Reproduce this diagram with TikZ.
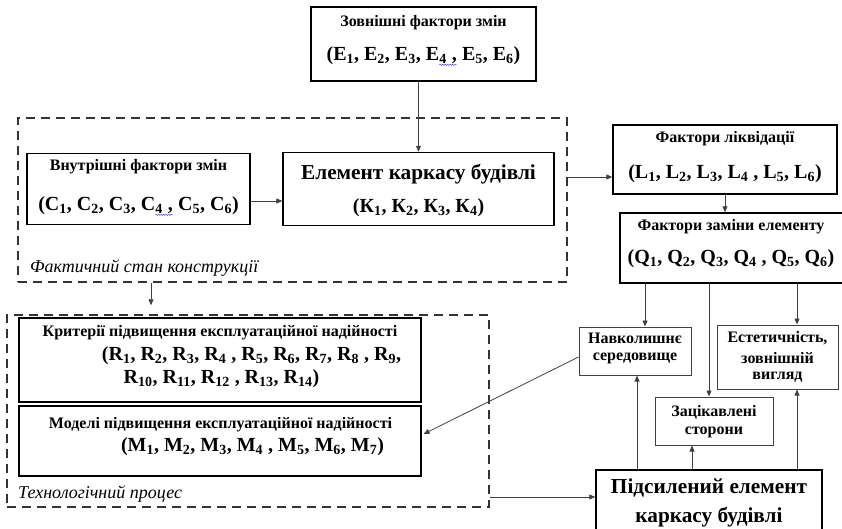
\documentclass[tikz,border=0pt]{standalone}
\usepackage{fontspec}
\setmainfont{Liberation Serif}
\usetikzlibrary{arrows.meta,calc,decorations.pathmorphing}
\newcommand\sbs[1]{\textsubscript{#1}}
\newcommand\squig[1]{\tikz[baseline=(sq.base)]{\node[inner sep=0pt,outer sep=0pt](sq){#1};\draw[blue!80, line width=0.4pt, decorate, decoration={snake,amplitude=0.7pt,segment length=2.5pt}] ([yshift=-1.5pt]sq.south west) -- ([yshift=-1.5pt]sq.south east);}}
\begin{document}
\begin{tikzpicture}[x=1pt,y=-1pt,
  bx/.style={draw=black, line width=1.4pt, inner sep=0pt, rectangle},
  bxthin/.style={draw=black!75, line width=1pt, inner sep=0pt, rectangle},
  bxmid/.style={draw=black, line width=1.2pt, inner sep=0pt, rectangle},
  dbox/.style={draw=black!80, line width=1.5pt, dash pattern=on 9pt off 6pt, inner sep=0pt, rectangle},
  conn/.style={draw=black!75, line width=0.8pt, -{Triangle[length=6pt,width=5pt]}},
  ttl/.style={font=\fontsize{16}{19}\selectfont\bfseries, inner sep=0pt},
  prm/.style={font=\fontsize{20}{23}\selectfont\bfseries, inner sep=0pt},
  big/.style={font=\fontsize{21.3}{25}\selectfont\bfseries, inner sep=0pt},
  lab/.style={font=\fontsize{18}{21}\selectfont\itshape, inner sep=0pt, anchor=base west},
]
\useasboundingbox (0,0) rectangle (842,528);

% top box
\node[bx, minimum width=225pt, minimum height=74pt] (E) at (423.5,44) {};
\node[ttl] (Et) at (423.5,23) {Зовнішні фактори змін};
\node[prm] (Ep) at (423.5,56) {(E\sbs{1}, E\sbs{2}, E\sbs{3}, E\squig{\sbs{4} ,} E\sbs{5}, E\sbs{6})};

% dashed group 1
\node[dbox, minimum width=549pt, minimum height=164pt] (F) at (292.5,200) {};
\node[lab] (Fl) at (30,272) {Фактичний стан конструкції};

\node[bx, minimum width=223pt, minimum height=71pt] (C) at (138.5,189) {};
\node[ttl] (Ct) at (138.5,167) {Внутрішні фактори змін};
\node[prm] (Cp) at (138.5,206) {(C\sbs{1}, C\sbs{2}, C\sbs{3}, C\squig{\sbs{4} ,} C\sbs{5}, C\sbs{6})};

\node[bx, minimum width=271pt, minimum height=73pt] (K) at (418.5,189) {};
\node[big] (Kt) at (418.5,174) {Елемент каркасу будівлі};
\node[prm] (Kp) at (418.5,208) {(К\sbs{1}, К\sbs{2}, К\sbs{3}, К\sbs{4})};

% right column
\node[bx, minimum width=224pt, minimum height=69pt] (L) at (725,159.5) {};
\node[ttl] (Lt) at (725,139) {Фактори ліквідації};
\node[prm] (Lp) at (725,174) {(L\sbs{1}, L\sbs{2}, L\sbs{3}, L\sbs{4} , L\sbs{5}, L\sbs{6})};

\node[bx, minimum width=223pt, minimum height=70pt] (Q) at (731.5,248) {};
\node[ttl] (Qt) at (731,227) {Фактори заміни елементу};
\node[prm] (Qp) at (731,259) {(Q\sbs{1}, Q\sbs{2}, Q\sbs{3}, Q\sbs{4} , Q\sbs{5}, Q\sbs{6})};

\node[bxthin, minimum width=112pt, minimum height=48pt] (N) at (635,351) {};
\node[ttl] (Nt1) at (635,338) {Навколишнє};
\node[ttl] (Nt2) at (635,358) {середовище};

\node[bxthin, minimum width=121pt, minimum height=64pt] (A) at (777.5,357) {};
\node[ttl] (At1) at (777.5,338) {Естетичність,};
\node[ttl] (At2) at (777.5,358) {зовнішній};
\node[ttl] (At3) at (777.5,377) {вигляд};

\node[bxthin, minimum width=118pt, minimum height=48pt] (Z) at (714,421) {};
\node[ttl] (Zt1) at (714,412) {Зацікавлені};
\node[ttl] (Zt2) at (714,432) {сторони};

\node[bx, minimum width=226pt, minimum height=66pt] (P) at (709,503) {};
\node[big] (Pt1) at (709,488) {Підсилений елемент};
\node[big] (Pt2) at (709,517) {каркасу будівлі};

% dashed group 2
\node[dbox, minimum width=482pt, minimum height=192pt] (T) at (248,411) {};
\node[lab] (Tl) at (18,498) {Технологічний процес};

\node[bxmid, minimum width=402pt, minimum height=84pt] (R) at (220,360) {};
\node[ttl] (Rt) at (220,333) {Критерії підвищення експлуатаційної надійності};
\node[prm] (Rp1) at (251.5,356) {(R\sbs{1}, R\sbs{2}, R\sbs{3}, R\sbs{4} , R\sbs{5}, R\sbs{6}, R\sbs{7}, R\sbs{8} , R\sbs{9},};
\node[prm] (Rp2) at (221.5,379) {R\sbs{10}, R\sbs{11}, R\sbs{12} , R\sbs{13}, R\sbs{14})};

\node[bxmid, minimum width=402pt, minimum height=70pt] (M) at (220,441) {};
\node[ttl] (Mt) at (220.5,425) {Моделі підвищення експлуатаційної надійності};
\node[prm] (Mp) at (252.5,447) {(M\sbs{1}, M\sbs{2}, M\sbs{3}, M\sbs{4} , M\sbs{5}, M\sbs{6}, M\sbs{7})};

% helper coordinates
\coordinate (x1) at (645,0);
\coordinate (x2) at (709,0);
\coordinate (x3) at (797,0);
\coordinate (x4) at (637,0);
\coordinate (x5) at (692,0);
\coordinate (x6) at (151,0);
\coordinate (Lin) at ($(L.west)+(0,17.5)$);
\coordinate (Pin) at ($(P.west)+(0,-6)$);

% connectors
\draw[conn] (E.south -| K.north) -- (K.north);
\draw[conn] ($(C.east)+(0,12)$) -- ($(K.west)+(0,12)$);
\draw[conn] (F.east |- Lin) -- (Lin);
\draw[conn] (L.south) -- (L.south |- Q.north);
\draw[conn] (Q.south -| x1) -- (N.north -| x1);
\draw[conn] (Q.south -| x2) -- (Z.north -| x2);
\draw[conn] (Q.south -| x3) -- (A.north -| x3);
\draw[conn] (P.north -| x4) -- (N.south -| x4);
\draw[conn] (P.north -| x5) -- (Z.south -| x5);
\draw[conn] (P.north -| x3) -- (A.south -| x3);
\draw[conn, shorten >=9pt] (F.south -| x6) -- (T.north -| x6);
\draw[conn] ($(N.west)+(0,6)$) -- ($(M.east)+(2,-7)$);
\draw[conn] (T.east |- Pin) -- (Pin);
\end{tikzpicture}
\end{document}
